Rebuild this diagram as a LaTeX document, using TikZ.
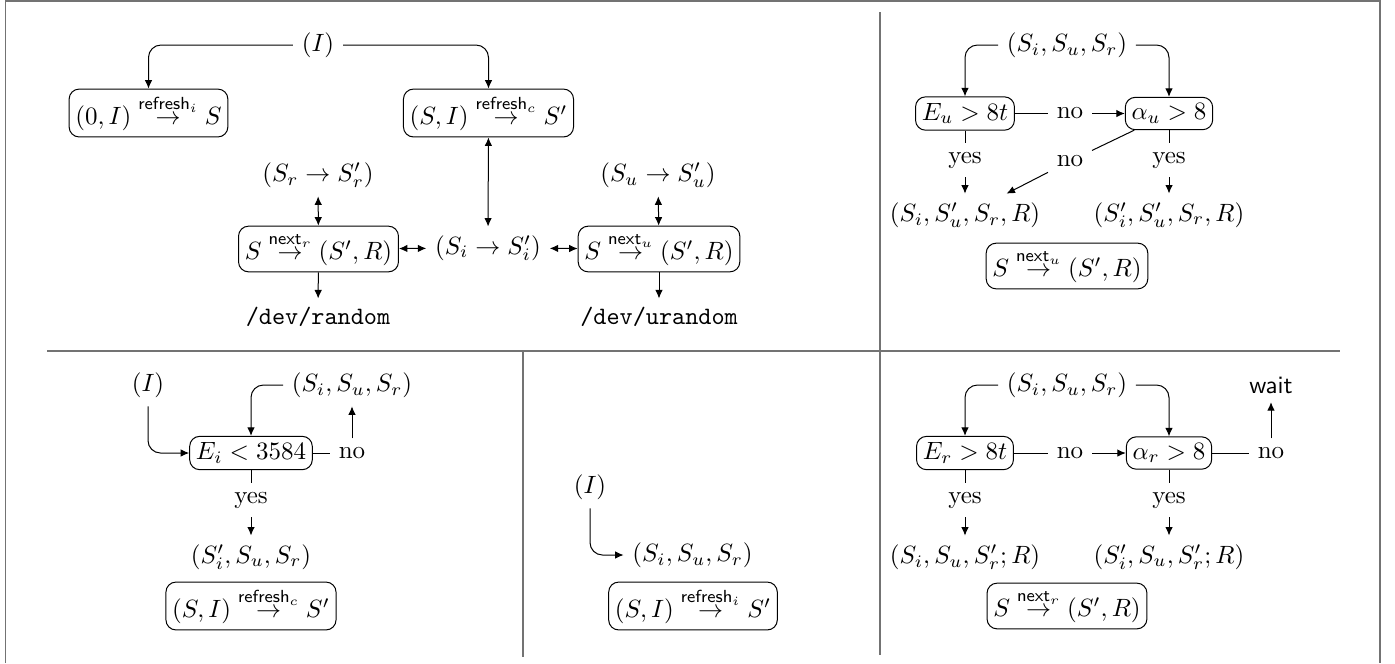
\documentclass[tikz,border=0pt]{standalone}
\usepackage{amsmath}
\usepackage{amssymb}
\usetikzlibrary{arrows.meta}

\begin{document}
\begin{tikzpicture}[
  x=0.4pt, y=-0.4pt,
  >={Latex[length=3.4pt,width=3pt]},
  box/.style={draw, rounded corners=4pt, inner sep=2.5pt},
  rule/.style={draw=black!55, line width=0.6pt},
  flow/.style={->, rounded corners=5pt},
  both/.style={<->},
]
\useasboundingbox (0,0) rectangle (1395,663);

% table rules
\draw[rule] (5.5,663) -- (5.5,1) -- (1380,1) -- (1380,663);
\draw[rule] (880,12) -- (880,655);
\draw[rule] (47,351) -- (1340,351);
\draw[rule] (523,351) -- (523,657);

% top left
\node (I0) at (318,45) {$(I)$};
\node[box] (R0) at (148.5,113) {$(0,I) \stackrel{\mathsf{refresh}_i}{\rightarrow} S$};
\node[box] (R1) at (488.5,113) {$(S,I) \stackrel{\mathsf{refresh}_c}{\rightarrow} S'$};
\node (Sr) at (318,175) {$(S_r \rightarrow S_r')$};
\node (Su) at (658,175) {$(S_u \rightarrow S_u')$};
\node[box] (N0) at (318.5,249) {$S \stackrel{\mathsf{next}_r}{\rightarrow} (S',R)$};
\node (Si) at (488,248) {$(S_i \rightarrow S_i')$};
\node[box] (N1) at (659,249) {$S \stackrel{\mathsf{next}_u}{\rightarrow} (S',R)$};
\node (DR) at (318,317) {\texttt{/dev/random}};
\node (DU) at (659,317) {\texttt{/dev/urandom}};

\draw[flow] (I0.west) -| (R0.north);
\draw[flow] (I0.east) -| (R1.north);
\draw[both] (R1) -- (Si);
\draw[both] (N0) -- (Si);
\draw[both] (Si) -- (N1);
\draw[both] (Sr) -- (N0);
\draw[both] (Su) -- (N1);
\draw[->] (N0) -- (DR);
\draw[->] (N1) -- (DU);

% top right
\node (SA) at (1067,45) {$(S_i,S_u,S_r)$};
\node[box] (Eu) at (965,113.5) {$E_u > 8t$};
\node (noA) at (1070,113.5) {no};
\node[box] (Au) at (1169,113.5) {$\alpha_u > 8$};
\node (yesA) at (965,160) {yes};
\node (noB) at (1070,161) {no};
\node (yesB) at (1169,160) {yes};
\node (RA) at (965,215) {$(S_i,S_u',S_r,R)$};
\node (RB) at (1169,215) {$(S_i',S_u',S_r,R)$};
\node[box] (N2) at (1067,266) {$S \stackrel{\mathsf{next}_u}{\rightarrow} (S',R)$};

\draw[flow] (SA.west) -| (Eu.north);
\draw[flow] (SA.east) -| (Au.north);
\draw (Eu) -- (noA);
\draw[->] (noA) -- (Au);
\draw (Eu) -- (yesA);
\draw[->] (yesA) -- (RA);
\draw (Au) -- (noB);
\draw[->] (noB) -- (RA);
\draw (Au) -- (yesB);
\draw[->] (yesB) -- (RB);

% bottom left
\node (I1) at (148,385) {$(I)$};
\node (SB) at (352,385) {$(S_i,S_u,S_r)$};
\node[box] (Ei) at (251,453) {$E_i < 3584$};
\node (noC) at (352,453) {no};
\node (yesC) at (251,500) {yes};
\node (RC) at (251,557) {$(S_i',S_u,S_r)$};
\node[box] (R2) at (251,606) {$(S,I) \stackrel{\mathsf{refresh}_c}{\rightarrow} S'$};

\draw[flow] (I1.south) |- (Ei.west);
\draw[flow] (SB.west) -| (Ei.north);
\draw (Ei) -- (noC);
\draw[->] (noC) -- (SB);
\draw (Ei) -- (yesC);
\draw[->] (yesC) -- (RC);

% bottom middle
\node (I2) at (590,487) {$(I)$};
\node (SC) at (692.5,555) {$(S_i,S_u,S_r)$};
\node[box] (R3) at (693,606) {$(S,I) \stackrel{\mathsf{refresh}_i}{\rightarrow} S'$};

\draw[flow] (I2.south) |- (SC.west);

% bottom right
\node (SD) at (1067,385) {$(S_i,S_u,S_r)$};
\node[box] (Er) at (965,453) {$E_r > 8t$};
\node (noD) at (1070,453) {no};
\node[box] (Ar) at (1169,453) {$\alpha_r > 8$};
\node (noE) at (1271,453) {no};
\node (W) at (1271,385) {\textsf{wait}};
\node (yesD) at (965,500) {yes};
\node (yesE) at (1169,500) {yes};
\node (RD) at (965,557) {$(S_i,S_u,S_r';R)$};
\node (RE) at (1169,557) {$(S_i',S_u,S_r';R)$};
\node[box] (N3) at (1067,606) {$S \stackrel{\mathsf{next}_r}{\rightarrow} (S',R)$};

\draw[flow] (SD.west) -| (Er.north);
\draw[flow] (SD.east) -| (Ar.north);
\draw (Er) -- (noD);
\draw[->] (noD) -- (Ar);
\draw (Ar) -- (noE);
\draw[->] (noE) -- (W);
\draw (Er) -- (yesD);
\draw[->] (yesD) -- (RD);
\draw (Ar) -- (yesE);
\draw[->] (yesE) -- (RE);

\end{tikzpicture}
\end{document}
